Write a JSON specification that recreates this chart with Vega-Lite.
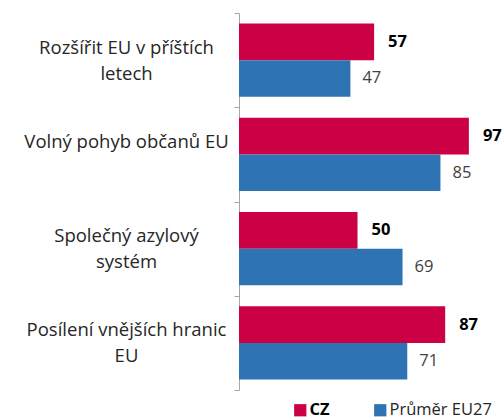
{
  "$schema": "https://vega.github.io/schema/vega-lite/v6.json",
  "autosize": "none",
  "width": 237,
  "height": 377,
  "padding": {"left": 239, "top": 13, "right": 28, "bottom": 29},
  "background": "white",
  "config": {"view": {"stroke": null}, "font": "Open Sans"},
  "data": {
    "values": [
      {"cat": "Rozšířit EU v příštích|letech", "series": "CZ", "value": 57},
      {"cat": "Rozšířit EU v příštích|letech", "series": "Průměr EU27", "value": 47},
      {"cat": "Volný pohyb občanů EU", "series": "CZ", "value": 97},
      {"cat": "Volný pohyb občanů EU", "series": "Průměr EU27", "value": 85},
      {"cat": "Společný azylový|systém", "series": "CZ", "value": 50},
      {"cat": "Společný azylový|systém", "series": "Průměr EU27", "value": 69},
      {"cat": "Posílení vnějších hranic|EU", "series": "CZ", "value": 87},
      {"cat": "Posílení vnějších hranic|EU", "series": "Průměr EU27", "value": 71}
    ]
  },
  "encoding": {
    "y": {
      "field": "cat", "type": "nominal", "sort": null, "title": null,
      "scale": {"paddingInner": 0, "paddingOuter": 0},
      "axis": {
        "domainColor": "#A6A6A6", "tickColor": "#A6A6A6", "tickSize": 5,
        "tickBand": "extent", "labelAlign": "center", "labelBaseline": "middle",
        "labelFontSize": 18.5, "labelColor": "#262626", "labelLineHeight": 26,
        "labelFont": "Open Sans", "labelLimit": 400, "labelPadding": 108,
        "labelOffset": -13,
        "labelExpr": "split(datum.label, '|')"
      }
    },
    "yOffset": {
      "field": "series", "type": "nominal", "sort": ["CZ", "Průměr EU27"],
      "scale": {"paddingOuter": 0.29, "paddingInner": 0}
    },
    "x": {
      "field": "value", "type": "quantitative", "title": null,
      "scale": {"domain": [0, 100]},
      "axis": null
    }
  },
  "layer": [
    {
      "transform": [{"filter": "datum.series == 'CZ'"}],
      "mark": {"type": "bar", "cornerRadius": 0},
      "encoding": {
        "color": {
          "field": "series", "type": "nominal", "title": null,
          "scale": {"domain": ["CZ"], "range": ["#CC0044"]},
          "legend": {
            "orient": "none", "direction": "horizontal",
            "legendX": 53, "legendY": 389,
            "symbolType": "square", "symbolSize": 150, "symbolStrokeWidth": 0,
            "labelFontSize": 16.5, "labelColor": "#000000", "labelOffset": 1,
            "labelFont": "Open Sans", "labelFontWeight": "bold", "padding": 0
          }
        }
      }
    },
    {
      "transform": [{"filter": "datum.series != 'CZ'"}],
      "mark": {"type": "bar", "cornerRadius": 0},
      "encoding": {
        "color": {
          "field": "series", "type": "nominal", "title": null,
          "scale": {"domain": ["Průměr EU27"], "range": ["#2E74B5"]},
          "legend": {
            "orient": "none", "direction": "horizontal",
            "legendX": 133, "legendY": 389,
            "symbolType": "square", "symbolSize": 150, "symbolStrokeWidth": 0,
            "labelFontSize": 16.5, "labelColor": "#262626", "labelOffset": 1,
            "labelFont": "Open Sans", "labelFontWeight": "normal", "padding": 0
          }
        }
      }
    },
    {
      "transform": [{"filter": "datum.series == 'CZ'"}],
      "mark": {"type": "text", "align": "left", "baseline": "middle", "dx": 14, "fontSize": 16.5, "fontWeight": "bold", "color": "#000000", "font": "Open Sans"},
      "encoding": {"text": {"field": "value", "type": "quantitative"}}
    },
    {
      "transform": [{"filter": "datum.series != 'CZ'"}],
      "mark": {"type": "text", "align": "left", "baseline": "middle", "dx": 12, "fontSize": 16.5, "color": "#404040", "font": "Open Sans"},
      "encoding": {"text": {"field": "value", "type": "quantitative"}}
    }
  ],
  "resolve": {"scale": {"color": "independent"}, "legend": {"color": "independent"}}
}
